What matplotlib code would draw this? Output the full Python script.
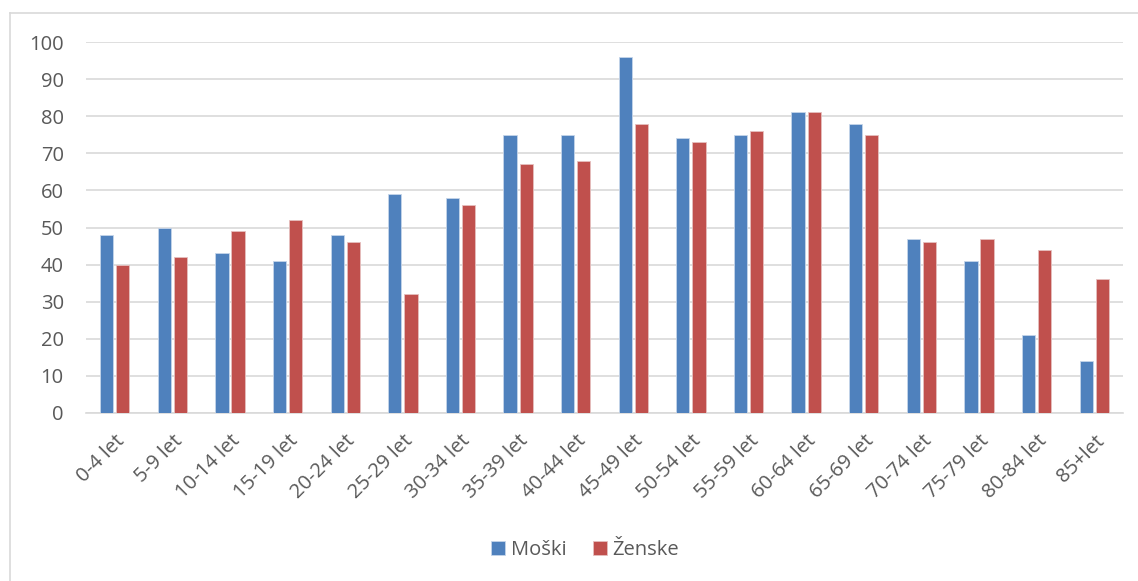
import matplotlib
matplotlib.use("Agg")
import matplotlib.pyplot as plt
import numpy as np
from matplotlib.lines import Line2D

categories = ["0-4 let", "5-9 let", "10-14 let", "15-19 let", "20-24 let", "25-29 let",
              "30-34 let", "35-39 let", "40-44 let", "45-49 let", "50-54 let", "55-59 let",
              "60-64 let", "65-69 let", "70-74 let", "75-79 let", "80-84 let", "85+let"]
moski = [48, 50, 43, 41, 48, 59, 58, 75, 75, 96, 74, 75, 81, 78, 47, 41, 21, 14]
zenske = [40, 42, 49, 52, 46, 32, 56, 67, 68, 78, 73, 76, 81, 75, 46, 47, 44, 36]
series_names = ["Moški", "Ženske"]
yticks = [0, 10, 20, 30, 40, 50, 60, 70, 80, 90, 100]

plt.rcParams['font.family'] = ['Open Sans', 'DejaVu Sans']
text_color = "#595959"
blue = "#4F81BD"
red = "#C0504D"

fig = plt.figure(figsize=(11.38, 5.81), dpi=100)
# outer chart border (top and left visible)
fig.add_artist(Line2D([10/1138, 10/1138], [0, 1 - 13/581], color="#d9d9d9", lw=1.2,
                      transform=fig.transFigure))
fig.add_artist(Line2D([10/1138, 1], [1 - 13/581, 1 - 13/581], color="#d9d9d9", lw=1.2,
                      transform=fig.transFigure))

ax = fig.add_axes([86/1138, 1 - 413/581, (1123 - 86)/1138, (413 - 42)/581])
x = np.arange(len(categories))
w = 0.23
off = 0.14
ax.bar(x - off, moski, width=w, color=blue, edgecolor="#c5d5ea", linewidth=0.6,
       label=series_names[0], zorder=3)
ax.bar(x + off, zenske, width=w, color=red, edgecolor="#e6c0bf", linewidth=0.6,
       label=series_names[1], zorder=3)

ax.set_xlim(-0.5, len(categories) - 0.5)
ax.set_ylim(0, 100)
ax.set_yticks(yticks)
ax.grid(axis='y', color="#d9d9d9", linewidth=1.2, zorder=0)
for s in ["top", "right", "left"]:
    ax.spines[s].set_visible(False)
ax.spines["bottom"].set_color("#d9d9d9")
ax.spines["bottom"].set_linewidth(1.2)
ax.tick_params(axis='both', length=0, colors=text_color, labelsize=14.5)
ax.tick_params(axis='y', pad=16)
ax.tick_params(axis='x', pad=13)
ax.set_xticks(x)
ax.set_xticklabels(categories, rotation=45, ha='right', rotation_mode='anchor')

leg = fig.legend(loc='center', bbox_to_anchor=(585/1138, 1 - 550/581), ncol=2, frameon=False,
                 fontsize=14.5, handlelength=0.7, handleheight=0.7, handletextpad=0.3,
                 columnspacing=1.3)
for t in leg.get_texts():
    t.set_color(text_color)

fig.savefig("out.png", dpi=100)
